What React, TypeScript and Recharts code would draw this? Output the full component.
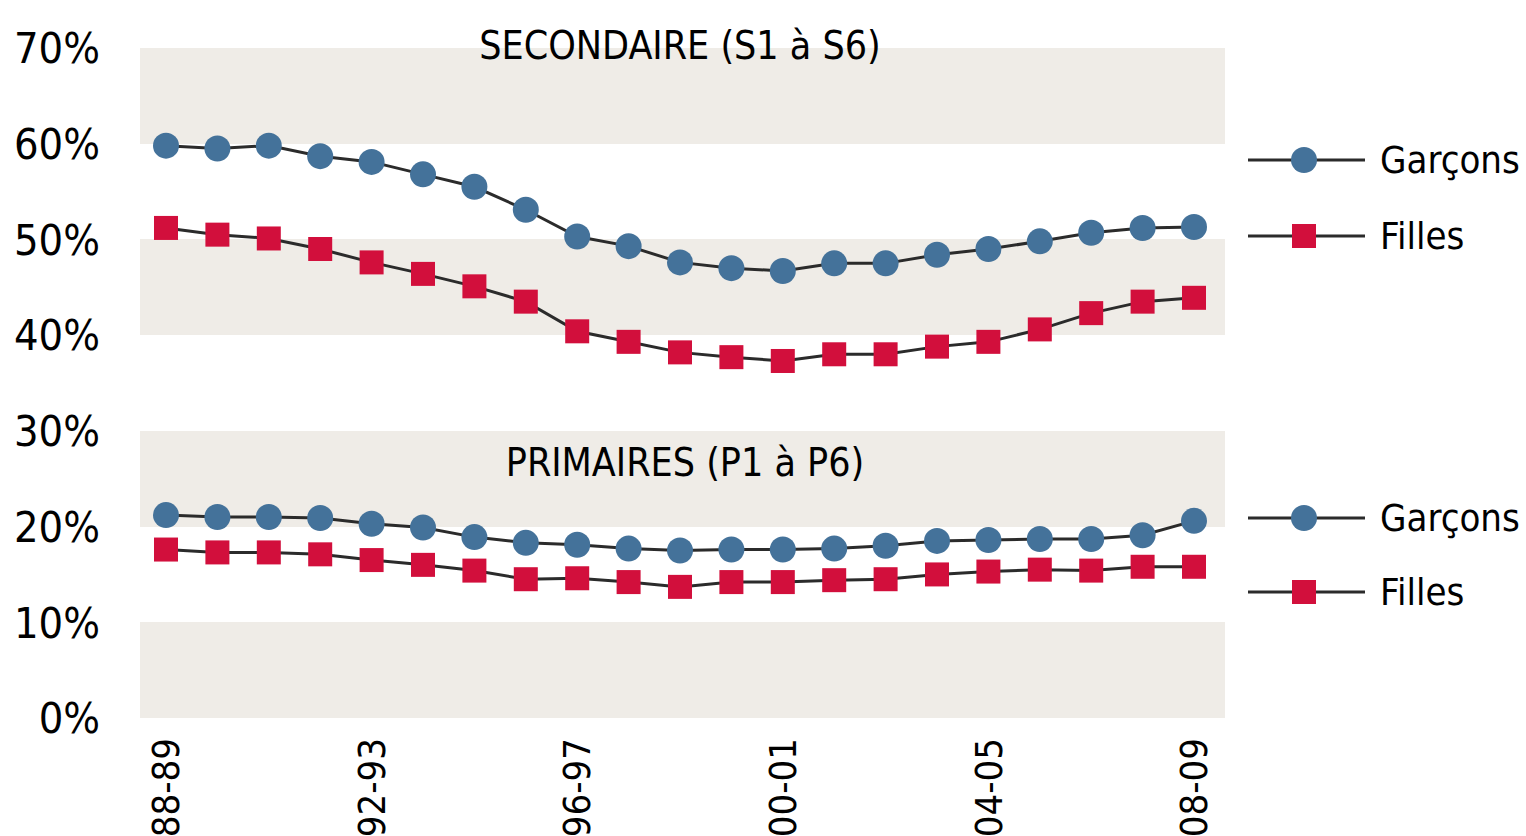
import React from 'react';
import {ComposedChart, Line, XAxis, YAxis, CartesianGrid} from 'recharts';

const years = ['88-89','89-90','90-91','91-92','92-93','93-94','94-95','95-96','96-97','97-98','98-99','99-00','00-01','01-02','02-03','03-04','04-05','05-06','06-07','07-08','08-09'];
const secGarcons = [59.8,59.5,59.8,58.7,58.1,56.8,55.5,53.1,50.3,49.3,47.6,47.0,46.7,47.5,47.5,48.4,49.0,49.8,50.7,51.2,51.3];
const secFilles = [51.2,50.5,50.1,49.0,47.6,46.4,45.1,43.5,40.4,39.3,38.2,37.7,37.3,38.0,38.0,38.8,39.3,40.6,42.3,43.5,43.9];
const primGarcons = [21.2,21.0,21.0,20.9,20.3,19.9,18.9,18.3,18.1,17.7,17.5,17.6,17.6,17.7,18.0,18.5,18.6,18.7,18.7,19.1,20.6];
const primFilles = [17.6,17.3,17.3,17.1,16.5,16.0,15.4,14.5,14.6,14.2,13.7,14.2,14.2,14.4,14.5,15.0,15.3,15.5,15.4,15.8,15.8];
const yTicks = [0,10,20,30,40,50,60,70];

const data = years.map((y, i) => ({
  year: y,
  sg: secGarcons[i],
  sf: secFilles[i],
  pg: primGarcons[i],
  pf: primFilles[i],
}));

const font = '"DejaVu Sans Condensed", "Noto Sans", sans-serif';
const blue = '#44729a';
const red = '#d20f3c';
const lineCol = '#2b2b2b';
const bandCol = '#efece7';
const textCol = '#000';

const Square = (props: any) => {
  const {cx, cy, index} = props;
  if (cx == null || cy == null) return null;
  return <rect key={index} x={cx - 12} y={cy - 12} width={24} height={24} fill={red} />;
};

const Circle = (props: any) => {
  const {cx, cy, index} = props;
  if (cx == null || cy == null) return null;
  return <circle key={index} cx={cx} cy={cy} r={13} fill={blue} />;
};

const YearTick = (props: any) => {
  const {x, y, payload} = props;
  return (
    <text x={x} y={y} dy="0.35em" textAnchor="end" transform={`rotate(-90, ${x}, ${y})`}
      fontSize={38} fontFamily={font} fill={textCol}>{payload.value}</text>
  );
};

const LegendPair = ({y1, y2}: {y1: number; y2: number}) => (
  <g>
    <line x1={1248} x2={1365} y1={y1} y2={y1} stroke={lineCol} strokeWidth={3} />
    <circle cx={1304} cy={y1} r={13} fill={blue} />
    <text x={1380} y={y1} dy="0.35em" fontSize={38} fontFamily={font} fill={textCol}>Garçons</text>
    <line x1={1248} x2={1365} y1={y2} y2={y2} stroke={lineCol} strokeWidth={3} />
    <rect x={1292} y={y2 - 12} width={24} height={24} fill={red} />
    <text x={1380} y={y2} dy="0.35em" fontSize={38} fontFamily={font} fill={textCol}>Filles</text>
  </g>
);

export default function App() {
  return (
    <div style={{position: 'absolute', left: 0, top: 0, width: 1526, height: 836, background: '#fff'}}>
      <ComposedChart width={1526} height={836} data={data} margin={{top: 48, right: 301, bottom: 0, left: 0}}>
        <CartesianGrid vertical={false} stroke="none" horizontalFill={[bandCol, 'transparent']} />
        <XAxis
          dataKey="year"
          interval={3}
          padding={{left: 26, right: 31}}
          axisLine={false}
          tickLine={false}
          height={118}
          tickSize={0}
          tickMargin={20}
          tick={<YearTick />}
        />
        <YAxis
          domain={[0, 70]}
          ticks={yTicks}
          width={140}
          axisLine={false}
          tickLine={false}
          tickSize={0}
          tickMargin={40}
          tickFormatter={(v: number) => `${v}%`}
          tick={{fontSize: 43, fontFamily: font, fill: textCol}}
        />
        <Line dataKey="sg" stroke={lineCol} strokeWidth={3} dot={<Circle />} activeDot={false} isAnimationActive={false} />
        <Line dataKey="sf" stroke={lineCol} strokeWidth={3} dot={<Square />} activeDot={false} isAnimationActive={false} />
        <Line dataKey="pg" stroke={lineCol} strokeWidth={3} dot={<Circle />} activeDot={false} isAnimationActive={false} />
        <Line dataKey="pf" stroke={lineCol} strokeWidth={3} dot={<Square />} activeDot={false} isAnimationActive={false} />
      </ComposedChart>
      <svg width={1526} height={836} style={{position: 'absolute', left: 0, top: 0, pointerEvents: 'none'}}>
        <text x={680} y={45} dy="0.35em" textAnchor="middle" fontSize={39} fontFamily={font} fill={textCol}>SECONDAIRE (S1 à S6)</text>
        <text x={685} y={462} dy="0.35em" textAnchor="middle" fontSize={39} fontFamily={font} fill={textCol}>PRIMAIRES (P1 à P6)</text>
        <LegendPair y1={160} y2={236} />
        <LegendPair y1={518} y2={592} />
      </svg>
    </div>
  );
}
